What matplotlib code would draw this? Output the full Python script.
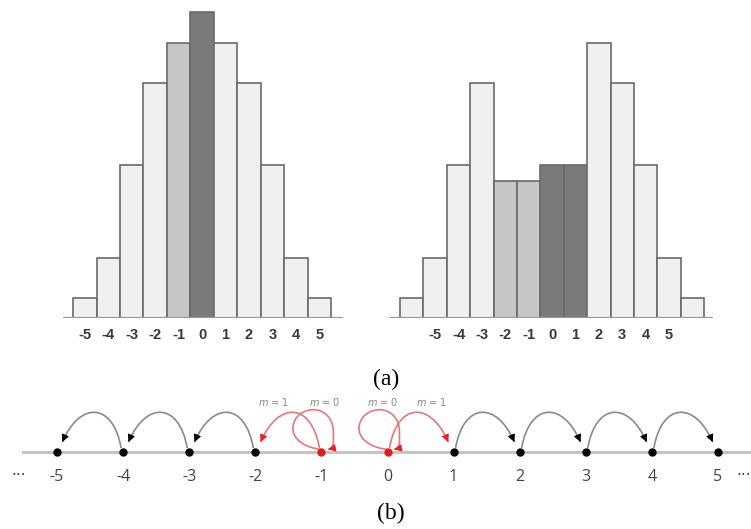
import numpy as np
import matplotlib
matplotlib.use("Agg")
import matplotlib.pyplot as plt
from matplotlib.path import Path
from matplotlib.patches import PathPatch, FancyArrowPatch

# (a) left histogram: symmetric, centred on 0
left_x = [-5, -4, -3, -2, -1, 0, 1, 2, 3, 4, 5]
left_h = [2, 6, 15.3, 23.5, 27.5, 30.6, 27.5, 23.5, 15.3, 6, 2]
left_shade = ['l', 'l', 'l', 'l', 'm', 'd', 'l', 'l', 'l', 'l', 'l']

# (a) right histogram: two bumps
right_x = [-6, -5, -4, -3, -2, -1, 0, 1, 2, 3, 4, 5, 6]
right_h = [2, 6, 15.3, 23.5, 13.7, 13.7, 15.3, 15.3, 27.5, 23.5, 15.3, 6, 2]
right_shade = ['l', 'l', 'l', 'l', 'm', 'm', 'd', 'd', 'l', 'l', 'l', 'l', 'l']

tick_vals = [-5, -4, -3, -2, -1, 0, 1, 2, 3, 4, 5]

# (b) number line
line_pts = [-5, -4, -3, -2, -1, 0, 1, 2, 3, 4, 5]
red_pts = [-1, 0]
black_jumps = [(-2, -3), (-3, -4), (-4, -5), (1, 2), (2, 3), (3, 4), (4, 5)]
red_jumps = [(-1, -2), (0, 1)]
red_loops = [-1, 0]
m_labels = [(-1.73, 'm = 1'), (-0.95, 'm = 0'), (-0.08, 'm = 0'), (0.67, 'm = 1')]

fills = {'l': '#f0f0f0', 'm': '#c6c6c6', 'd': '#7a7a7a'}
W, H = 751, 529

fig = plt.figure(figsize=(W / 100, H / 100), dpi=100)


def hist(px0, px1, xlim, xs, hs, shades):
    ax = fig.add_axes([px0 / W, (H - 318) / H, (px1 - px0) / W, 310 / H])
    ax.bar(xs, hs, width=1.0, color=[fills[s] for s in shades],
           edgecolor='#6a6a6a', linewidth=1.2, zorder=2)
    ax.axhline(0, color='#999999', lw=1.6, zorder=3)
    ax.set_xlim(*xlim)
    ax.set_ylim(0, 31)
    ax.set_xticks(tick_vals)
    ax.set_xticklabels([str(v) for v in tick_vals], fontsize=10.5,
                       fontweight='bold', color='#383838',
                       family='Liberation Sans')
    ax.tick_params(axis='x', length=0, pad=7)
    ax.set_yticks([])
    for s in ax.spines.values():
        s.set_visible(False)
    ax.patch.set_alpha(0)
    return ax


hist(63, 343, (-5.93, 6.01), left_x, left_h, left_shade)
hist(390, 713, (-6.93, 6.88), right_x, right_h, right_shade)

fig.text(386 / W, 1 - 379 / H, '(a)', ha='center', va='center',
         fontsize=17, family='Liberation Serif')
fig.text(391 / W, 1 - 513 / H, '(b)', ha='center', va='center',
         fontsize=17, family='Liberation Serif')

# number line axes, same scale on x and y (66.1 px per unit)
u = 66.1
nx = fig.add_axes([0, 0, 1, (529 - 395) / H])
nx.set_xlim(-5 - 57 / u, 5 + 33 / u)
nx.set_ylim(-(529 - 452) / u, (452 - 395) / u)
nx.axis('off')

nx.plot([-5 - 34 / u, 5 + 33 / u], [0, 0], color='#c4c4c4', lw=2.2, zorder=1)
for p in line_pts:
    c = '#e02020' if p in red_pts else 'black'
    nx.plot(p, 0, 'o', color=c, ms=5, zorder=4)
    nx.text(p, -0.38, str(p), ha='center', va='center', fontsize=11.5,
            color='#444444', family='Open Sans')
nx.text(-5.58, -0.36, '\u00b7\u00b7\u00b7', ha='center', va='center',
        fontsize=11, color='#444444')
nx.text(5.28, -0.36, '\u00b7\u00b7\u00b7', ha='left', va='center',
        fontsize=11, color='#444444')


def head(p_end, p_from, color):
    d = np.array(p_end) - np.array(p_from)
    d = d / np.hypot(*d)
    start = np.array(p_end) - 0.06 * d
    nx.add_patch(FancyArrowPatch(tuple(start), tuple(p_end), arrowstyle='-|>',
                                 mutation_scale=11, color=color, lw=0.8,
                                 shrinkA=0, shrinkB=0, zorder=5))


def jump(a, b, line_c, head_c):
    s = np.sign(b - a)
    p0 = (a + 0.03 * s, 0.06)
    c1 = (a + 0.15 * s, 0.75)
    c2 = (b - 0.35 * s, 0.78)
    p3 = (b - 0.08 * s, 0.15)
    path = Path([p0, c1, c2, p3], [Path.MOVETO] + [Path.CURVE4] * 3)
    nx.add_patch(PathPatch(path, fc='none', ec=line_c, lw=1.2, zorder=3))
    head(p3, c2, head_c)


def loop(p, line_c, head_c):
    verts = [(p, 0.04),
             (p - 0.25, 0.06), (p - 0.45, 0.2), (p - 0.43, 0.38),
             (p - 0.41, 0.56), (p - 0.25, 0.64), (p - 0.12, 0.64),
             (p + 0.05, 0.64), (p + 0.18, 0.5), (p + 0.18, 0.32),
             (p + 0.18, 0.14), (p + 0.2, 0.06), (p + 0.1, 0.04)]
    codes = [Path.MOVETO] + [Path.CURVE4] * 12
    nx.add_patch(PathPatch(Path(verts, codes), fc='none', ec=line_c,
                           lw=1.2, zorder=3))
    head(verts[-1], verts[-2], head_c)


for a, b in black_jumps:
    jump(a, b, '#8a8a8a', 'black')
for a, b in red_jumps:
    jump(a, b, '#e07a7a', '#e8202a')
for p in red_loops:
    loop(p, '#e07a7a', '#e8202a')

for x, t in m_labels:
    nx.text(x, 0.76, t.replace('m', '$m$'), ha='center', va='center',
            fontsize=7, color='#888888')

fig.savefig('out.png', dpi=100)
